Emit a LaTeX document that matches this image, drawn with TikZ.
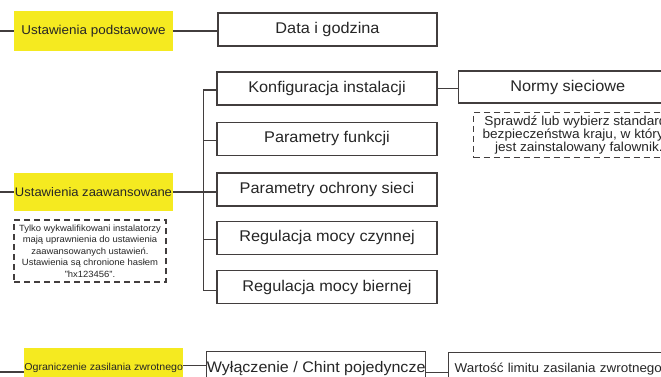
\documentclass[tikz,border=0pt]{standalone}
\usepackage{fontspec}
\setmainfont[FakeStretch=1.05]{Liberation Sans}
\usetikzlibrary{positioning}

\definecolor{menuyellow}{RGB}{245,234,32}
\definecolor{framegray}{RGB}{66,62,62}
\definecolor{inkgray}{RGB}{38,38,38}

\begin{document}
\begin{tikzpicture}[x=1pt, y=-1pt, node distance={15pt},
    item/.style = {draw=framegray, line width=1.4pt, fill=white, text=inkgray, minimum width=220pt, minimum height=33pt, inner sep=0pt, font=\fontsize{15.5}{18}\selectfont},
    group/.style = {fill=menuyellow, text=inkgray, minimum width=159pt, inner sep=0pt},
    note/.style = {draw=framegray, dash pattern=on 6pt off 4pt, line width=1.1pt, text=inkgray, align=center, inner xsep=10pt},
    link/.style = {draw=framegray, line width=1.2pt}]
\useasboundingbox (0,0) rectangle (661,377);
\clip (0,0) rectangle (661,377);
\fill[white] (0,0) rectangle (661,377);

\node[group, minimum height=40pt, font=\fontsize{12.8}{15}\selectfont] (basic) at (93.5,31) {Ustawienia podstawowe};
\node[item, minimum width=219pt] (clock) at (327.5,29.5) {Data i godzina};

\node[group, minimum height=38pt, font=\fontsize{12.4}{15}\selectfont] (adv) at (93.5,192) {Ustawienia zaawansowane};
\node[note, font=\fontsize{9}{11.5}\selectfont, minimum width=152pt, minimum height=62pt, inner xsep=4pt] (advnote) at (90,251)
    {Tylko wykwalifikowani instalatorzy\\mają uprawnienia do ustawienia\\zaawansowanych ustawień.\\Ustawienia są chronione hasłem\\"hx123456".};

\node[item] (setup) at (327,88.5) {Konfiguracja instalacji};
\node[item, below=16pt of setup] (func) {Parametry funkcji};
\node[item, below=16pt of func] (protect) {Parametry ochrony sieci};
\node[item, below=14pt of protect] (active) {Regulacja mocy czynnej};
\node[item, below=15pt of active] (reactive) {Regulacja mocy biernej};

\node[item, minimum width=218pt, minimum height=32pt, anchor=west] (grid) at (458,87) {Normy sieciowe};
\node[note, anchor=north west, minimum height=45pt, inner xsep=9pt, font=\fontsize{13}{10.7}\selectfont] (gridnote) at (473,112)
    {Sprawdź lub wybierz standardy\\bezpieczeństwa kraju, w którym\\jest zainstalowany falownik.};

\node[group, minimum height=40pt, anchor=north west, font=\fontsize{10.1}{12}\selectfont] (limit) at (24,348) {Ograniczenie zasilania zwrotnego};
\node[item, minimum width=219pt, anchor=north west, font=\fontsize{15.3}{18}\selectfont] (off) at (206,351) {Wyłączenie / Chint pojedyncze};
\node[item, anchor=north west, text width=218pt, align=left, inner xsep=6pt, font=\fontsize{12.8}{15}\selectfont] (value) at (448,352) {Wartość limitu zasilania zwrotnego};

\coordinate (in1) at (0,31);
\coordinate (in2) at (0,192);
\coordinate (in3) at (0,372);
\draw[link] (in1) -- (basic.west);
\draw[link] (basic.east) -- (basic.east -| clock.west);
\draw[link] (in2) -- (adv.west);
\draw[link] (adv.east) -- (adv.east -| protect.west);
\draw[link] ([yshift=-1.5pt]setup.west) -- ++(-13,0) |- ([yshift=-3pt]reactive.west);
\draw[link] ([yshift=-1.5pt]func.west) -- ++(-13,0);
\draw[link] ([yshift=-2pt]active.west) -- ++(-13,0);
\draw[link] (setup.east) -- (setup.east -| grid.west);
\draw[link] (in3) -- (in3 -| limit.west);
\draw[link] ([yshift=3pt]limit.east) -- ([yshift=3pt]limit.east -| off.west);
\draw[link] ([yshift=-4pt]off.east) -- ([yshift=-4pt]off.east -| value.west);
\end{tikzpicture}
\end{document}
